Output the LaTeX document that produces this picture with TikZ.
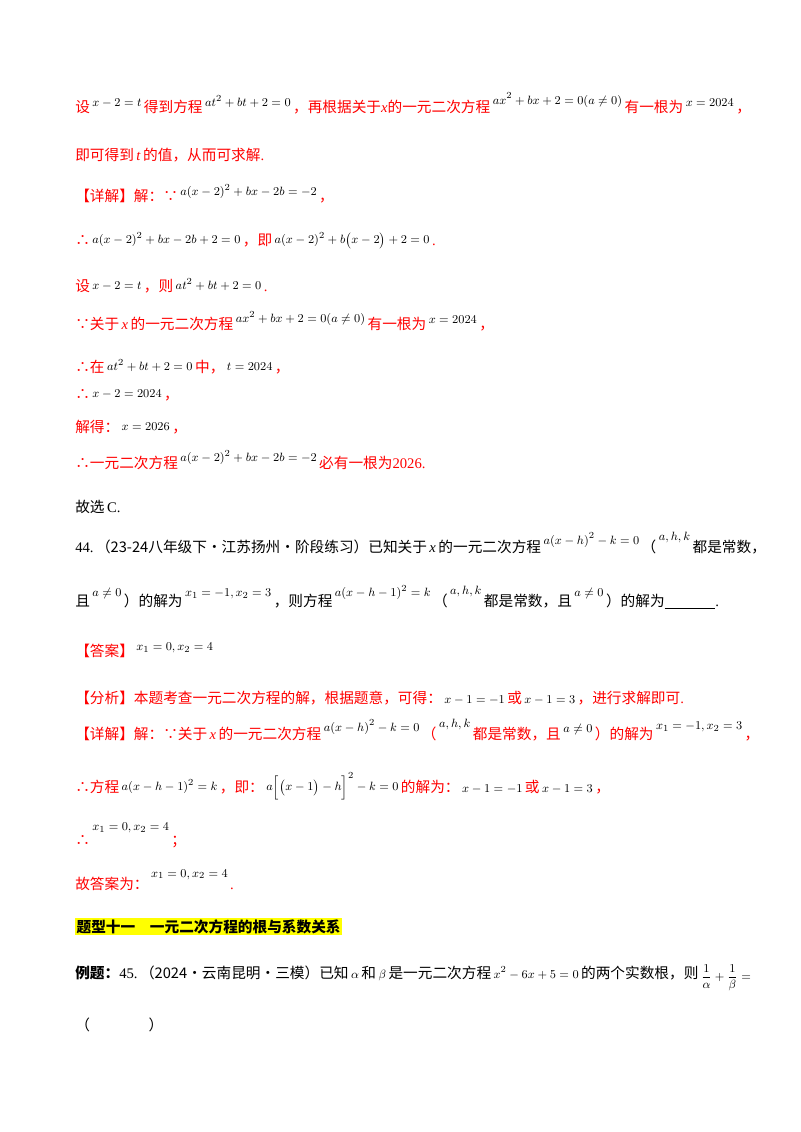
\documentclass[tikz,border=0pt]{standalone}
\usepackage{fontspec}
\setmainfont{Liberation Serif}
\newfontfamily\cjk{Noto Sans CJK SC}
\definecolor{rd}{RGB}{255,0,0}
\definecolor{hl}{RGB}{255,255,0}
\newcommand\Z[1]{{\cjk #1}}
\newcommand\M[2][3pt]{\,\raisebox{#1}{\textcolor{black}{\fontsize{9.5}{11}\selectfont$#2$}}\,}
\begin{document}
\begin{tikzpicture}[x=0.75pt,y=-0.75pt,
  t/.style={anchor=base west,inner sep=0pt,font=\fontsize{11}{13}\selectfont},
  r/.style={t,text=rd}]
\useasboundingbox[fill=white] (0,0) rectangle (800,1132);
\node[r] (l1) at (75,112) {\Z{设}\M[4pt]{x-2=t}\Z{得到方程}\M[4pt]{at^2+bt+2=0}\Z{，再根据关于}\textit{x}\Z{的一元二次方程}\M[6pt]{ax^2+bx+2=0(a\neq0)}\Z{有一根为}\M[4pt]{x=2024}\Z{，}};
\node[r] (l2) at (75,160) {\Z{即可得到}\,\textit{t}\,\Z{的值，从而可求解}.};
\node[r] (l3) at (75,201) {\Z{【详解】解：∵}\M[4pt]{a(x-2)^2+bx-2b=-2}\Z{，}};
\node[r] (l4) at (75,245) {\Z{∴}\M[1pt]{a(x-2)^2+bx-2b+2=0}\Z{，即}\M[1pt]{a(x-2)^2+b\bigl(x-2\bigr)+2=0}.};
\node[r] (l5) at (75,291) {\Z{设}\M[1pt]{x-2=t}\Z{，则}\M[1pt]{at^2+bt+2=0}.};
\node[r] (l6) at (75,329) {\Z{∵关于}\,\textit{x}\,\Z{的一元二次方程}\M[5pt]{ax^2+bx+2=0(a\neq0)}\Z{有一根为}\M[4pt]{x=2024}\Z{，}};
\node[r] (l7) at (75,372) {\Z{∴在}\M[1pt]{at^2+bt+2=0}\Z{中，}\M[1pt]{t=2024}\Z{，}};
\node[r] (l8) at (75,399) {\Z{∴}\M[1pt]{x-2=2024}\Z{，}};
\node[r] (l9) at (75,432) {\Z{解得：}\M[1pt]{x=2026}\Z{，}};
\node[r] (l10) at (75,468) {\Z{∴一元二次方程}\M[5pt]{a(x-2)^2+bx-2b=-2}\Z{必有一根为}2026.};
\node[t] (l11) at (75,512) {\Z{故选}\,C.};
\node[t] (q1) at (75,552) {44.\,\Z{（23-24八年级下·江苏扬州·阶段练习）已知关于}\,\textit{x}\,\Z{的一元二次方程}\M[6pt]{a(x-h)^2-k=0}\Z{（}\M[9pt]{a,h,k}\Z{都是常数，}};
\node[t] (q2) at (75,606) {\Z{且}\M[7pt]{a\neq0}\Z{）的解为}\M[7pt]{x_1=-1,x_2=3}\Z{，则方程}\M[7pt]{a(x-h-1)^2=k}\Z{（}\M[9pt]{a,h,k}\Z{都是常数，且}\M[7pt]{a\neq0}\Z{）的解为}\underline{\hspace{38pt}}.};
\node[r] (ans) at (75,656) {\Z{【答案】}\M[4pt]{x_1=0,x_2=4}};
\node[r] (an) at (75,703) {\Z{【分析】本题考查一元二次方程的解，根据题意，可得：}\M[0pt]{x-1=-1}\Z{或}\M[0pt]{x-1=3}\Z{，进行求解即可}.};
\node[r] (d1) at (75,739) {\Z{【详解】解：∵关于}\,\textit{x}\,\Z{的一元二次方程}\M[6pt]{a(x-h)^2-k=0}\Z{（}\M[9pt]{a,h,k}\Z{都是常数，且}\M[5pt]{a\neq0}\Z{）的解为}\M[7pt]{x_1=-1,x_2=3}\Z{，}};
\node[r] (d2) at (75,792) {\Z{∴方程}\M[1pt]{a(x-h-1)^2=k}\Z{，即：}\M[1pt]{a\Bigl[\bigl(x-1\bigr)-h\Bigr]^2-k=0}\Z{的解为：}\M[0pt]{x-1=-1}\Z{或}\M[0pt]{x-1=3}\Z{，}};
\node[r] (d3) at (75,845) {\Z{∴}\M[11pt]{x_1=0,x_2=4}\Z{；}};
\node[r] (d4) at (75,889) {\Z{故答案为：}\M[9pt]{x_1=0,x_2=4}.};
\node[t,fill=hl,inner sep=1pt] (h) at (75,932) {\Z{\textbf{题型十一\quad 一元二次方程的根与系数关系}}};
\node[t] (q45) at (75,978) {\Z{\textbf{例题：}}45.\,\Z{（2024·云南昆明·三模）已知}\M[0pt]{\alpha}\Z{和}\M[0pt]{\beta}\Z{是一元二次方程}\M[0pt]{x^2-6x+5=0}\Z{的两个实数根，则}\M[-2pt]{\displaystyle\frac{1}{\alpha}+\frac{1}{\beta}=}};
\node[t] (p) at (75,1030) {\Z{（\qquad\qquad ）}};
\end{tikzpicture}
\end{document}
